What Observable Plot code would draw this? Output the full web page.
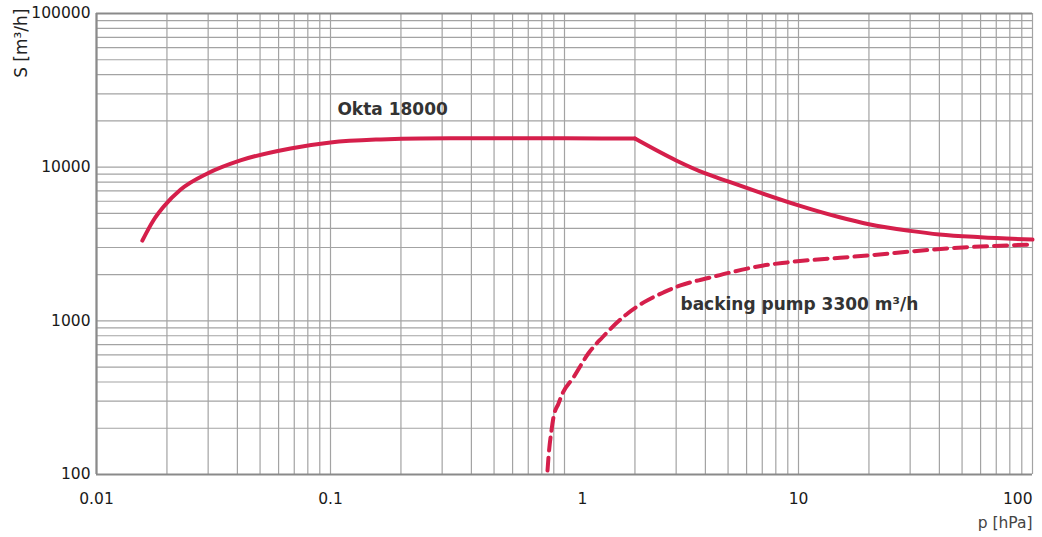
<!DOCTYPE html>
<html>
<head>
<meta charset="utf-8">
<script src="https://cdn.jsdelivr.net/npm/d3@7"></script>
<script src="https://cdn.jsdelivr.net/npm/@observablehq/plot@0.6"></script>
<style>
  html, body { margin: 0; padding: 0; background: #fff; }
  #chart svg { display: block; }
</style>
</head>
<body>
<div id="chart"></div>
<script>
// Okta 18000 pumping speed curve (p in hPa, S in m³/h)
const oktaP = [0.0157, 0.0175, 0.0193, 0.0229, 0.0298, 0.0412, 0.0675, 0.1, 0.164, 0.243, 0.5, 1.0, 2.0];
const oktaS = [3330, 4500, 5500, 7150, 9100, 11060, 13240, 14480, 15160, 15380, 15420, 15400, 15350];
const oktaP2 = [2.0, 3.0, 4.0, 5.0, 7.0, 10, 15, 20, 30, 40, 60, 100];
const oktaS2 = [15350, 11060, 9100, 8080, 6750, 5640, 4720, 4250, 3850, 3650, 3500, 3380];

// backing pump 3300 m³/h (dashed)
const backP = [0.846, 0.854, 0.880, 0.897, 0.943, 0.981, 1.093, 1.266, 1.45, 1.86, 2.18, 2.65, 3.13, 4.21, 5.12, 7.08, 8.97, 19.7, 43.5, 100];
const backS = [106, 129, 194, 235, 290, 337, 429, 615, 779, 1117, 1318, 1531, 1700, 1915, 2065, 2293, 2400, 2660, 2960, 3140];

// axis ticks and grid
const xTicks = [0.01, 0.1, 1, 10, 100];
const xTickLabels = ["0.01", "0.1", "1", "10", "100"];
const yTicks = [100, 1000, 10000, 100000];
const yTickLabels = ["100", "1000", "10000", "100000"];
const gridX = [0.01,0.02,0.03,0.04,0.05,0.06,0.07,0.08,0.09,
               0.1,0.2,0.3,0.4,0.5,0.6,0.7,0.8,0.9,
               1,2,3,4,5,6,7,8,9,
               10,20,30,40,50,60,70,80,90,100];
const gridY = [100,200,300,400,500,600,700,800,900,
               1000,2000,3000,4000,5000,6000,7000,8000,9000,
               10000,20000,30000,40000,50000,60000,70000,80000,90000,100000];

const seriesLabels = ["Okta 18000", "backing pump 3300 m³/h"];
const xAxisTitle = "p [hPa]";
const yAxisTitle = "S [m³/h]";

const okta = [
  ...oktaP.map((p, i) => ({p, s: oktaS[i], seg: "a"})),
  ...oktaP2.map((p, i) => ({p, s: oktaS2[i], seg: "b"}))
];
const back = backP.map((p, i) => ({p, s: backS[i]}));

const red = "#d51f4b";
const gridColor = "#a3a3a3";
const font = "DejaVu Sans, sans-serif";

const xt = xTicks.map((v, i) => ({v, t: xTickLabels[i]}));
const yt = yTicks.map((v, i) => ({v, t: yTickLabels[i]}));

const chart = Plot.plot({
  width: 1042,
  height: 537,
  marginLeft: 96,
  marginRight: 10,
  marginTop: 13,
  marginBottom: 63,
  style: {fontFamily: font, background: "#fff"},
  x: {type: "log", domain: [0.01, 100], axis: null},
  y: {type: "log", domain: [100, 100000], axis: null},
  marks: [
    Plot.ruleX(gridX, {x: d => d, stroke: gridColor, strokeWidth: 1.2}),
    Plot.ruleY(gridY, {y: d => d, stroke: gridColor, strokeWidth: 1.2}),
    Plot.ruleX([0.01], {x: d => d, stroke: "#8a8a8a", strokeWidth: 2.2}),
    Plot.ruleY([100, 100000], {y: d => d, stroke: "#8a8a8a", strokeWidth: 2}),
    // y tick labels
    Plot.text(yt, {y: "v", text: "t", frameAnchor: "left", textAnchor: "end", dx: -6,
      fontSize: 15.5, fill: "#1a1a1a"}),
    // x tick labels
    Plot.text(xt.filter(d => d.v !== 1 && d.v !== 100), {x: "v", text: "t", frameAnchor: "bottom", dy: 29,
      fontSize: 15.5, fill: "#1a1a1a"}),
    Plot.text(xt.filter(d => d.v === 1), {x: "v", text: "t", frameAnchor: "bottom", dy: 29, dx: 18,
      fontSize: 15.5, fill: "#1a1a1a"}),
    Plot.text(xt.filter(d => d.v === 100), {x: "v", text: "t", frameAnchor: "bottom", dy: 29,
      textAnchor: "end", fontSize: 15.5, fill: "#1a1a1a"}),
    // axis titles
    Plot.text([xAxisTitle], {frameAnchor: "bottom-right", dy: 53, textAnchor: "end",
      fontSize: 15.5, fill: "#444"}),
    Plot.text([yAxisTitle], {frameAnchor: "top-left", dx: -82, dy: -5, rotate: -90,
      textAnchor: "end", fontSize: 17, fill: "#222"}),
    // curves
    Plot.line(back, {x: "p", y: "s", stroke: red, strokeWidth: 4, strokeDasharray: "13,7",
      curve: "monotone-x"}),
    Plot.line(okta, {x: "p", y: "s", z: "seg", stroke: red, strokeWidth: 4, curve: "monotone-x"}),
    // series labels
    Plot.text([seriesLabels[0]], {x: 0.107, y: 21700, textAnchor: "start", lineAnchor: "bottom",
      fontSize: 17, fontWeight: "bold", fill: "#333"}),
    Plot.text([seriesLabels[1]], {x: 3.13, y: 1170, textAnchor: "start", lineAnchor: "bottom",
      fontSize: 17, fontWeight: "bold", fill: "#333"})
  ]
});
document.getElementById("chart").appendChild(chart);
</script>
</body>
</html>
